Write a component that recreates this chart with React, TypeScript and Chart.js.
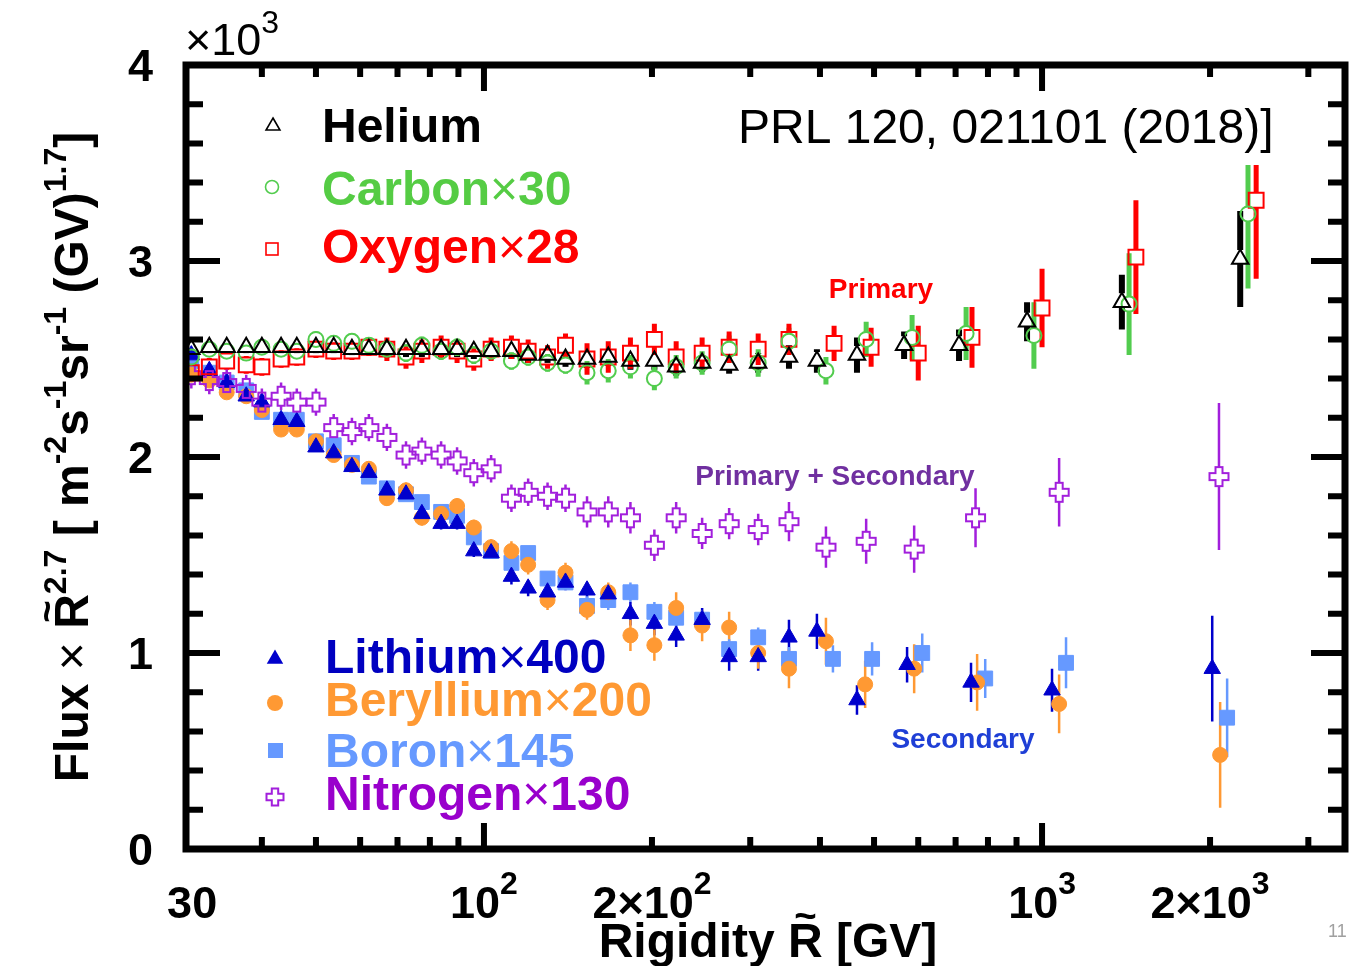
import React, { useEffect, useRef } from 'react';
import { Chart, registerables } from 'chart.js';
Chart.register(...registerables);

const FONT = '"Liberation Sans", Arial, sans-serif';

// ---------------- data (flux in units of 10^3) ----------------
const binsR = [29.9, 32.2, 34.6, 37.5, 40.0, 43.3, 46.2, 50.0, 53.8, 58.0, 62.2, 67.0, 72.5, 77.4, 83.8, 89.5, 95.9, 103, 112, 120, 130, 140, 153, 167, 183, 202, 221, 246, 275, 310, 352, 395, 466, 566, 710, 940, 1390, 2265];

const heliumR = binsR;
const heliumFlux = [2.55, 2.56, 2.56, 2.56, 2.56, 2.56, 2.56, 2.56, 2.56, 2.55, 2.55, 2.55, 2.55, 2.55, 2.55, 2.55, 2.54, 2.54, 2.54, 2.52, 2.52, 2.50, 2.50, 2.51, 2.49, 2.49, 2.46, 2.48, 2.47, 2.48, 2.51, 2.49, 2.52, 2.57, 2.57, 2.69, 2.79, 3.01];
const heliumErr = [0.03, 0.03, 0.03, 0.03, 0.03, 0.03, 0.03, 0.03, 0.03, 0.03, 0.03, 0.04, 0.04, 0.04, 0.04, 0.04, 0.04, 0.04, 0.04, 0.04, 0.04, 0.04, 0.045, 0.045, 0.045, 0.045, 0.045, 0.045, 0.045, 0.05, 0.06, 0.06, 0.09, 0.07, 0.08, 0.10, 0.14, 0.245];

const carbonR = [...binsR.slice(0, 31), 410, 484, 585, 731, 967, 1432, 2339];
const carbonFlux = [2.51, 2.55, 2.54, 2.53, 2.56, 2.55, 2.54, 2.60, 2.58, 2.59, 2.57, 2.55, 2.53, 2.57, 2.54, 2.56, 2.52, 2.54, 2.49, 2.51, 2.48, 2.47, 2.43, 2.44, 2.46, 2.40, 2.46, 2.48, 2.55, 2.48, 2.59, 2.44, 2.60, 2.61, 2.63, 2.62, 2.78, 3.24];
const carbonErr = [0.04, 0.04, 0.04, 0.04, 0.04, 0.04, 0.04, 0.04, 0.04, 0.04, 0.04, 0.045, 0.045, 0.045, 0.045, 0.045, 0.045, 0.045, 0.045, 0.045, 0.045, 0.045, 0.06, 0.06, 0.06, 0.06, 0.06, 0.06, 0.07, 0.07, 0.07, 0.07, 0.09, 0.115, 0.135, 0.17, 0.26, 0.38];

const oxygenR = [...binsR.slice(0, 31), 424, 494, 600, 749, 1000, 1473, 2419];
const oxygenFlux = [2.43, 2.46, 2.49, 2.47, 2.46, 2.50, 2.51, 2.55, 2.54, 2.54, 2.56, 2.55, 2.51, 2.54, 2.56, 2.54, 2.50, 2.55, 2.56, 2.54, 2.51, 2.57, 2.50, 2.51, 2.53, 2.60, 2.51, 2.53, 2.56, 2.55, 2.60, 2.58, 2.56, 2.53, 2.61, 2.76, 3.02, 3.31];
const oxygenErr = [0.045, 0.045, 0.045, 0.045, 0.045, 0.045, 0.045, 0.045, 0.045, 0.045, 0.045, 0.06, 0.06, 0.06, 0.06, 0.06, 0.06, 0.06, 0.06, 0.06, 0.06, 0.06, 0.08, 0.08, 0.08, 0.08, 0.08, 0.08, 0.08, 0.08, 0.08, 0.09, 0.10, 0.14, 0.155, 0.20, 0.29, 0.40];

const lithiumR = [...binsR.slice(0, 33), 573, 746, 1042, 2018];
const lithiumFlux = [2.52, 2.44, 2.38, 2.31, 2.28, 2.19, 2.18, 2.05, 2.02, 1.95, 1.92, 1.83, 1.81, 1.71, 1.66, 1.66, 1.52, 1.51, 1.39, 1.33, 1.31, 1.36, 1.32, 1.30, 1.20, 1.15, 1.09, 1.17, 0.98, 0.98, 1.08, 1.11, 0.76, 0.94, 0.85, 0.81, 0.92];
const lithiumErr = [0.02, 0.02, 0.02, 0.02, 0.02, 0.02, 0.02, 0.02, 0.02, 0.02, 0.02, 0.03, 0.03, 0.03, 0.03, 0.03, 0.03, 0.03, 0.04, 0.04, 0.04, 0.04, 0.04, 0.04, 0.06, 0.06, 0.06, 0.06, 0.07, 0.07, 0.09, 0.09, 0.075, 0.09, 0.10, 0.11, 0.27];

const berylliumR = [...binsR.slice(0, 31), 410, 482, 590, 765, 1073, 2085];
const berylliumFlux = [2.42, 2.39, 2.33, 2.31, 2.24, 2.14, 2.14, 2.08, 2.01, 1.96, 1.94, 1.79, 1.83, 1.69, 1.71, 1.75, 1.64, 1.54, 1.52, 1.45, 1.27, 1.41, 1.22, 1.31, 1.09, 1.04, 1.23, 1.14, 1.13, 1.00, 0.92, 1.06, 0.84, 0.92, 0.85, 0.74, 0.48];
const berylliumErr = [0.025, 0.025, 0.025, 0.025, 0.025, 0.025, 0.025, 0.025, 0.025, 0.025, 0.025, 0.04, 0.04, 0.04, 0.04, 0.04, 0.04, 0.04, 0.05, 0.05, 0.05, 0.05, 0.05, 0.05, 0.08, 0.08, 0.08, 0.08, 0.08, 0.08, 0.10, 0.12, 0.12, 0.125, 0.145, 0.15, 0.27];

const boronR = [...binsR.slice(0, 31), 422, 496, 610, 791, 1104, 2146];
const boronFlux = [2.49, 2.43, 2.38, 2.34, 2.23, 2.19, 2.19, 2.08, 2.06, 1.97, 1.90, 1.84, 1.81, 1.77, 1.72, 1.70, 1.59, 1.52, 1.46, 1.51, 1.38, 1.36, 1.24, 1.27, 1.31, 1.21, 1.18, 1.17, 1.02, 1.08, 0.97, 0.97, 0.97, 1.00, 0.87, 0.95, 0.67];
const boronErr = [0.02, 0.02, 0.02, 0.02, 0.02, 0.02, 0.02, 0.02, 0.02, 0.02, 0.02, 0.03, 0.03, 0.03, 0.03, 0.03, 0.03, 0.03, 0.03, 0.03, 0.03, 0.03, 0.05, 0.05, 0.05, 0.05, 0.05, 0.05, 0.05, 0.05, 0.06, 0.07, 0.085, 0.10, 0.10, 0.13, 0.20];

const nitrogenR = [...binsR.slice(0, 31), 410, 484, 590, 760, 1073, 2075];
const nitrogenFlux = [2.42, 2.39, 2.38, 2.35, 2.28, 2.31, 2.28, 2.28, 2.15, 2.13, 2.15, 2.10, 2.01, 2.03, 2.01, 1.98, 1.92, 1.94, 1.79, 1.82, 1.80, 1.79, 1.72, 1.72, 1.69, 1.55, 1.69, 1.61, 1.66, 1.63, 1.67, 1.54, 1.57, 1.53, 1.69, 1.82, 1.90];
const nitrogenErr = [0.07, 0.07, 0.07, 0.07, 0.07, 0.07, 0.07, 0.07, 0.07, 0.07, 0.07, 0.07, 0.07, 0.07, 0.07, 0.07, 0.07, 0.07, 0.07, 0.07, 0.07, 0.07, 0.08, 0.08, 0.08, 0.08, 0.08, 0.08, 0.08, 0.08, 0.10, 0.105, 0.115, 0.12, 0.15, 0.175, 0.375];

// axis ticks
const yTickLabels = [0, 1, 2, 3, 4];
const xMajorTicks = [100, 1000];
const xMinorTicks = [40, 50, 60, 70, 80, 90, 200, 300, 400, 500, 600, 700, 800, 900, 2000, 3000];
const xTickLabels = [
  { v: 30, base: '30', sup: '' },
  { v: 100, base: '10', sup: '2' },
  { v: 200, base: '2×10', sup: '2' },
  { v: 1000, base: '10', sup: '3' },
  { v: 2000, base: '2×10', sup: '3' },
];

// legend entries: name, factor
const legendNames = ['Helium', 'Carbon', 'Oxygen', 'Lithium', 'Beryllium', 'Boron', 'Nitrogen'];
const legendFactors = ['', '30', '28', '400', '200', '145', '130'];

// colours
const C_HE = '#000000';
const C_C = '#52cc4e';
const C_O = '#ff0000';
const C_LI = '#0000cc';
const C_BE = '#ff9933';
const C_B = '#6699ff';
const C_N = '#a21fdc';

type Seg = { t: string; sup?: boolean; tilde?: boolean; w?: string };

function drawRich(ctx: CanvasRenderingContext2D, segs: Seg[], x: number, y: number, size: number, supSize: number, rise: number, align: 'left' | 'center', weight = 'bold') {
  const f = (s: Seg) => `${s.w ?? weight} ${s.sup ? supSize : size}px ${FONT}`;
  const widths = segs.map((s) => { ctx.font = f(s); return ctx.measureText(s.t).width; });
  const total = widths.reduce((a, b) => a + b, 0);
  let cx = align === 'center' ? x - total / 2 : x;
  ctx.textAlign = 'left';
  ctx.textBaseline = 'alphabetic';
  segs.forEach((s, i) => {
    ctx.font = f(s);
    ctx.fillText(s.t, cx, s.sup ? y - rise : y);
    if (s.tilde) {
      ctx.font = `${weight} ${size * 0.8}px ${FONT}`;
      ctx.textAlign = 'center';
      ctx.fillText('~', cx + widths[i] / 2, y - 0.45 * size - 6);
      ctx.textAlign = 'left';
    }
    cx += widths[i];
  });
}

function triPath(ctx: CanvasRenderingContext2D, x: number, y: number, r: number) {
  ctx.beginPath();
  ctx.moveTo(x, y - r);
  ctx.lineTo(x + r * 0.866, y + r / 2);
  ctx.lineTo(x - r * 0.866, y + r / 2);
  ctx.closePath();
}

function crossPath(ctx: CanvasRenderingContext2D, x: number, y: number, L: number, a: number) {
  const p = [[-a, -L], [a, -L], [a, -a], [L, -a], [L, a], [a, a], [a, L], [-a, L], [-a, a], [-L, a], [-L, -a], [-a, -a]];
  ctx.beginPath();
  p.forEach(([dx, dy], i) => (i === 0 ? ctx.moveTo(x + dx, y + dy) : ctx.lineTo(x + dx, y + dy)));
  ctx.closePath();
}

function makeCross(L: number, a: number, color: string, lw: number) {
  const c = document.createElement('canvas');
  const s = Math.ceil(2 * L + lw + 2);
  c.width = s; c.height = s;
  const ctx = c.getContext('2d')!;
  ctx.strokeStyle = color; ctx.lineWidth = lw;
  crossPath(ctx, s / 2, s / 2, L, a);
  ctx.stroke();
  return c;
}

const decorPlugin = {
  id: 'decor',
  beforeDatasetsDraw(chart: any) {
    const { ctx, chartArea: a } = chart;
    const xs = chart.scales.x, ys = chart.scales.y;
    ctx.save();
    ctx.beginPath(); ctx.rect(a.left, a.top, a.right - a.left, a.bottom - a.top); ctx.clip();
    ctx.lineCap = 'butt';
    chart.data.datasets.forEach((ds: any) => {
      if (!ds.errors) return;
      ctx.strokeStyle = ds.errColor; ctx.lineWidth = ds.errWidth;
      ds.data.forEach((p: any, j: number) => {
        const e = ds.errors[j];
        const x = xs.getPixelForValue(p.x);
        const y = ys.getPixelForValue(p.y);
        const yt = ys.getPixelForValue(p.y + e);
        const yb = ys.getPixelForValue(p.y - e);
        ctx.beginPath();
        if (y - yt > ds.gapUp) { ctx.moveTo(x, y - ds.gapUp); ctx.lineTo(x, yt); }
        if (yb - y > ds.gapDown) { ctx.moveTo(x, y + ds.gapDown); ctx.lineTo(x, yb); }
        ctx.stroke();
      });
    });
    ctx.restore();
  },
  afterDraw(chart: any) {
    const { ctx, chartArea: a } = chart;
    const xs = chart.scales.x, ys = chart.scales.y;
    ctx.save();
    // white box of the reference label
    ctx.fillStyle = '#ffffff';
    ctx.fillRect(732, 96, 560, 69);
    ctx.fillStyle = '#000';
    ctx.font = `normal 48px ${FONT}`;
    ctx.textAlign = 'left'; ctx.textBaseline = 'alphabetic';
    ctx.fillText('PRL 120, 021101 (2018)]', 738, 143);

    // frame
    ctx.strokeStyle = '#000'; ctx.lineWidth = 7;
    ctx.strokeRect(a.left, a.top, a.right - a.left, a.bottom - a.top);
    ctx.lineWidth = 6; ctx.lineCap = 'butt';
    ctx.beginPath();
    for (let k = 1; k < 20; k++) {
      const v = k * 0.2;
      const py = ys.getPixelForValue(v);
      const len = k % 5 === 0 ? 34 : 17;
      ctx.moveTo(a.left, py); ctx.lineTo(a.left + len, py);
      ctx.moveTo(a.right, py); ctx.lineTo(a.right - len, py);
    }
    const xt = (v: number, len: number) => {
      const px = xs.getPixelForValue(v);
      ctx.moveTo(px, a.bottom); ctx.lineTo(px, a.bottom - len);
      ctx.moveTo(px, a.top); ctx.lineTo(px, a.top + len);
    };
    xMinorTicks.forEach((v) => xt(v, 12));
    xMajorTicks.forEach((v) => xt(v, 26));
    ctx.stroke();

    // y tick labels
    ctx.fillStyle = '#000';
    ctx.font = `bold 45px ${FONT}`;
    ctx.textAlign = 'right'; ctx.textBaseline = 'middle';
    yTickLabels.forEach((v) => ctx.fillText(String(v), 153, ys.getPixelForValue(v) + 4));
    // x10^3
    drawRich(ctx, [{ t: '×10', w: 'normal' }, { t: '3', sup: true, w: 'normal' }], 185, 55, 45, 32, 22, 'left');

    // x tick labels
    xTickLabels.forEach((l) => {
      const segs: Seg[] = [{ t: l.base }];
      if (l.sup) segs.push({ t: l.sup, sup: true });
      drawRich(ctx, segs, xs.getPixelForValue(l.v), 918, 45, 32, 24, 'center');
    });

    // axis titles
    drawRich(ctx, [{ t: 'Rigidity ' }, { t: 'R', tilde: true }, { t: ' [GV]' }], 768, 957, 48, 32, 20, 'center');
    ctx.save();
    ctx.translate(88, 457);
    ctx.rotate(-Math.PI / 2);
    drawRich(ctx, [
      { t: 'Flux ' }, { t: '× ', w: 'normal' }, { t: 'R', tilde: true }, { t: '2.7', sup: true },
      { t: ' [ m' }, { t: '-2', sup: true }, { t: 's' }, { t: '-1', sup: true }, { t: 'sr' }, { t: '-1', sup: true },
      { t: ' (GV)' }, { t: '1.7', sup: true }, { t: ']' },
    ], 0, 0, 48, 32, 22, 'center');
    ctx.restore();

    // legend markers
    ctx.lineWidth = 1.6;
    ctx.strokeStyle = C_HE; triPath(ctx, 273, 126, 8); ctx.stroke();
    ctx.strokeStyle = C_C; ctx.beginPath(); ctx.arc(272, 187, 6.5, 0, Math.PI * 2); ctx.stroke();
    ctx.strokeStyle = C_O; ctx.strokeRect(266, 243, 12, 12);
    ctx.fillStyle = C_LI; triPath(ctx, 275, 659, 9.5); ctx.fill();
    ctx.fillStyle = C_BE; ctx.beginPath(); ctx.arc(275, 703, 8, 0, Math.PI * 2); ctx.fill();
    ctx.fillStyle = C_B; ctx.fillRect(268, 743, 15, 15);
    ctx.strokeStyle = C_N; ctx.lineWidth = 2; crossPath(ctx, 275, 797, 8.5, 3.2); ctx.stroke();

    // legend texts
    const legPos: [string, number, number][] = [
      ['#000000', 322, 142],
      ['#55cc44', 322, 205],
      ['#ff0000', 322, 263],
      ['#0000c0', 325, 673],
      ['#ff9933', 325, 716],
      ['#6699ff', 325, 767],
      ['#9900cc', 325, 810],
    ];
    legendNames.forEach((name, i) => {
      const [c, x, y] = legPos[i];
      ctx.fillStyle = c;
      const segs: Seg[] = [{ t: name }];
      if (legendFactors[i]) { segs.push({ t: '×', w: 'normal' }); segs.push({ t: legendFactors[i] }); }
      drawRich(ctx, segs, x, y, 48, 48, 0, 'left');
    });

    // annotations
    ctx.font = `bold 28px ${FONT}`;
    ctx.textAlign = 'center'; ctx.textBaseline = 'alphabetic';
    ctx.fillStyle = '#ff0000'; ctx.fillText('Primary', 881, 298);
    ctx.fillStyle = '#7030a0'; ctx.fillText('Primary + Secondary', 835, 485);
    ctx.fillStyle = '#1f3fd6'; ctx.fillText('Secondary', 963, 748);
    ctx.fillStyle = '#a0a0a0'; ctx.font = `normal 18px ${FONT}`; ctx.textAlign = 'left';
    ctx.fillText('11', 1328, 937);
    ctx.restore();
  },
};

function pts(r: number[], f: number[]) {
  return r.map((x, i) => ({ x, y: f[i] }));
}

export default function App() {
  const ref = useRef<HTMLCanvasElement>(null);
  useEffect(() => {
    const canvas = ref.current!;
    const cross = makeCross(9.5, 3.5, C_N, 2);
    const base = { showLine: false, pointHoverRadius: 0 };
    const chart = new Chart(canvas, {
      type: 'scatter',
      data: {
        datasets: [
          { ...base, label: 'Helium', data: pts(heliumR, heliumFlux), errors: heliumErr, errColor: C_HE, errWidth: 6, gapUp: 9, gapDown: 4.5,
            pointStyle: 'triangle', pointRadius: 9.5, borderColor: C_HE, backgroundColor: 'rgba(0,0,0,0)', borderWidth: 2, order: 1 },
          { ...base, label: 'Carbon', data: pts(carbonR, carbonFlux), errors: carbonErr, errColor: C_C, errWidth: 5, gapUp: 7.5, gapDown: 7.5,
            pointStyle: 'circle', pointRadius: 7.5, borderColor: C_C, backgroundColor: 'rgba(0,0,0,0)', borderWidth: 2, order: 2 },
          { ...base, label: 'Oxygen', data: pts(oxygenR, oxygenFlux), errors: oxygenErr, errColor: C_O, errWidth: 5, gapUp: 7.5, gapDown: 7.5,
            pointStyle: 'rect', pointRadius: 10.5, borderColor: C_O, backgroundColor: 'rgba(0,0,0,0)', borderWidth: 2, order: 3 },
          { ...base, label: 'Nitrogen', data: pts(nitrogenR, nitrogenFlux), errors: nitrogenErr, errColor: C_N, errWidth: 2.5, gapUp: 9.5, gapDown: 9.5,
            pointStyle: cross, pointRadius: 10, borderColor: C_N, backgroundColor: C_N, order: 4 },
          { ...base, label: 'Lithium', data: pts(lithiumR, lithiumFlux), errors: lithiumErr, errColor: C_LI, errWidth: 2.5, gapUp: 0, gapDown: 0,
            pointStyle: 'triangle', pointRadius: 9.5, borderColor: C_LI, backgroundColor: C_LI, borderWidth: 1, order: 5 },
          { ...base, label: 'Beryllium', data: pts(berylliumR, berylliumFlux), errors: berylliumErr, errColor: C_BE, errWidth: 2.5, gapUp: 0, gapDown: 0,
            pointStyle: 'circle', pointRadius: 7.5, borderColor: C_BE, backgroundColor: C_BE, borderWidth: 1, order: 6 },
          { ...base, label: 'Boron', data: pts(boronR, boronFlux), errors: boronErr, errColor: C_B, errWidth: 2.5, gapUp: 0, gapDown: 0,
            pointStyle: 'rect', pointRadius: 10.5, borderColor: C_B, backgroundColor: C_B, borderWidth: 1, order: 7 },
        ] as any,
      },
      options: {
        responsive: false,
        animation: false,
        devicePixelRatio: 1,
        layout: { autoPadding: false, padding: { left: 186, top: 65, right: 5, bottom: 117 } },
        plugins: { legend: { display: false }, tooltip: { enabled: false } },
        events: [],
        scales: {
          x: { type: 'logarithmic', min: 29.25, max: 3490, display: false },
          y: { type: 'linear', min: 0, max: 4, display: false },
        },
      } as any,
      plugins: [decorPlugin],
    });
    return () => chart.destroy();
  }, []);
  return (
    <div style={{ position: 'absolute', left: 0, top: 0, width: 1350, height: 966, background: '#fff' }}>
      <canvas ref={ref} width={1350} height={966} style={{ display: 'block', width: 1350, height: 966 }} />
    </div>
  );
}
